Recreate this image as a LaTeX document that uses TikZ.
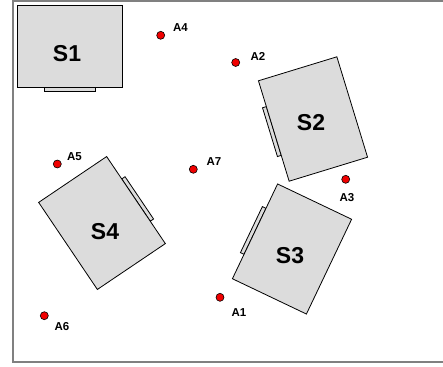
\documentclass[tikz,border=0pt]{standalone}
\usepackage{fontspec}
\setmainfont{Liberation Sans}
\definecolor{boxfill}{RGB}{220,220,220}
\definecolor{framegray}{RGB}{128,128,128}
\definecolor{dotred}{RGB}{240,0,0}
\tikzset{
  unitbox/.style={draw=black,fill=boxfill,line width=0.8pt},
  pics/server/.style={code={
    \draw[unitbox] (-45,-25.5) rectangle (-41,25.5);
    \draw[unitbox] (-41,-52.5) rectangle (41,52.5);
  }},
  bigtext/.style={font=\fontsize{23}{23}\selectfont\bfseries,inner sep=0pt},
  smalltext/.style={font=\fontsize{11.5}{11.5}\selectfont\bfseries,inner sep=0pt},
  anchorpt/.style={circle,draw=black,fill=dotred,line width=0.6pt,minimum size=8pt,inner sep=0pt}
}
\begin{document}
\begin{tikzpicture}[x=1pt,y=-1pt]
\useasboundingbox (0,0) rectangle (443,366);
\fill[white] (0,0) rectangle (443,366);
\draw[framegray,line width=1.6pt] (460,1) -- (13,1) -- (13,362) -- (460,362);
% units
\pic[rotate=90] at (70,46.3) {server};
\pic[rotate=17] at (313,119) {server};
\pic[rotate=-25.5] at (292,249) {server};
\pic[rotate=-146] at (102,223) {server};
\node[bigtext] (s1) at (67,54) {S1};
\node[bigtext] (s2) at (311,122.5) {S2};
\node[bigtext] (s3) at (290,256) {S3};
\node[bigtext] (s4) at (105,231.5) {S4};
% anchor points
\node[anchorpt] (a1) at (220,297.3) {};
\node[anchorpt] (a2) at (235.7,62.5) {};
\node[anchorpt] (a3) at (345.7,179.3) {};
\node[anchorpt] (a4) at (160.7,35.3) {};
\node[anchorpt] (a5) at (57.3,164) {};
\node[anchorpt] (a6) at (44.3,315.7) {};
\node[anchorpt] (a7) at (193.3,169.3) {};
\node[smalltext] (l1) at (239,313) {A1};
\node[smalltext] (l2) at (258,56.5) {A2};
\node[smalltext] (l3) at (347,198) {A3};
\node[smalltext] (l4) at (180.5,27.5) {A4};
\node[smalltext] (l5) at (74.5,157) {A5};
\node[smalltext] (l6) at (62,327) {A6};
\node[smalltext] (l7) at (214,162) {A7};
\end{tikzpicture}
\end{document}
